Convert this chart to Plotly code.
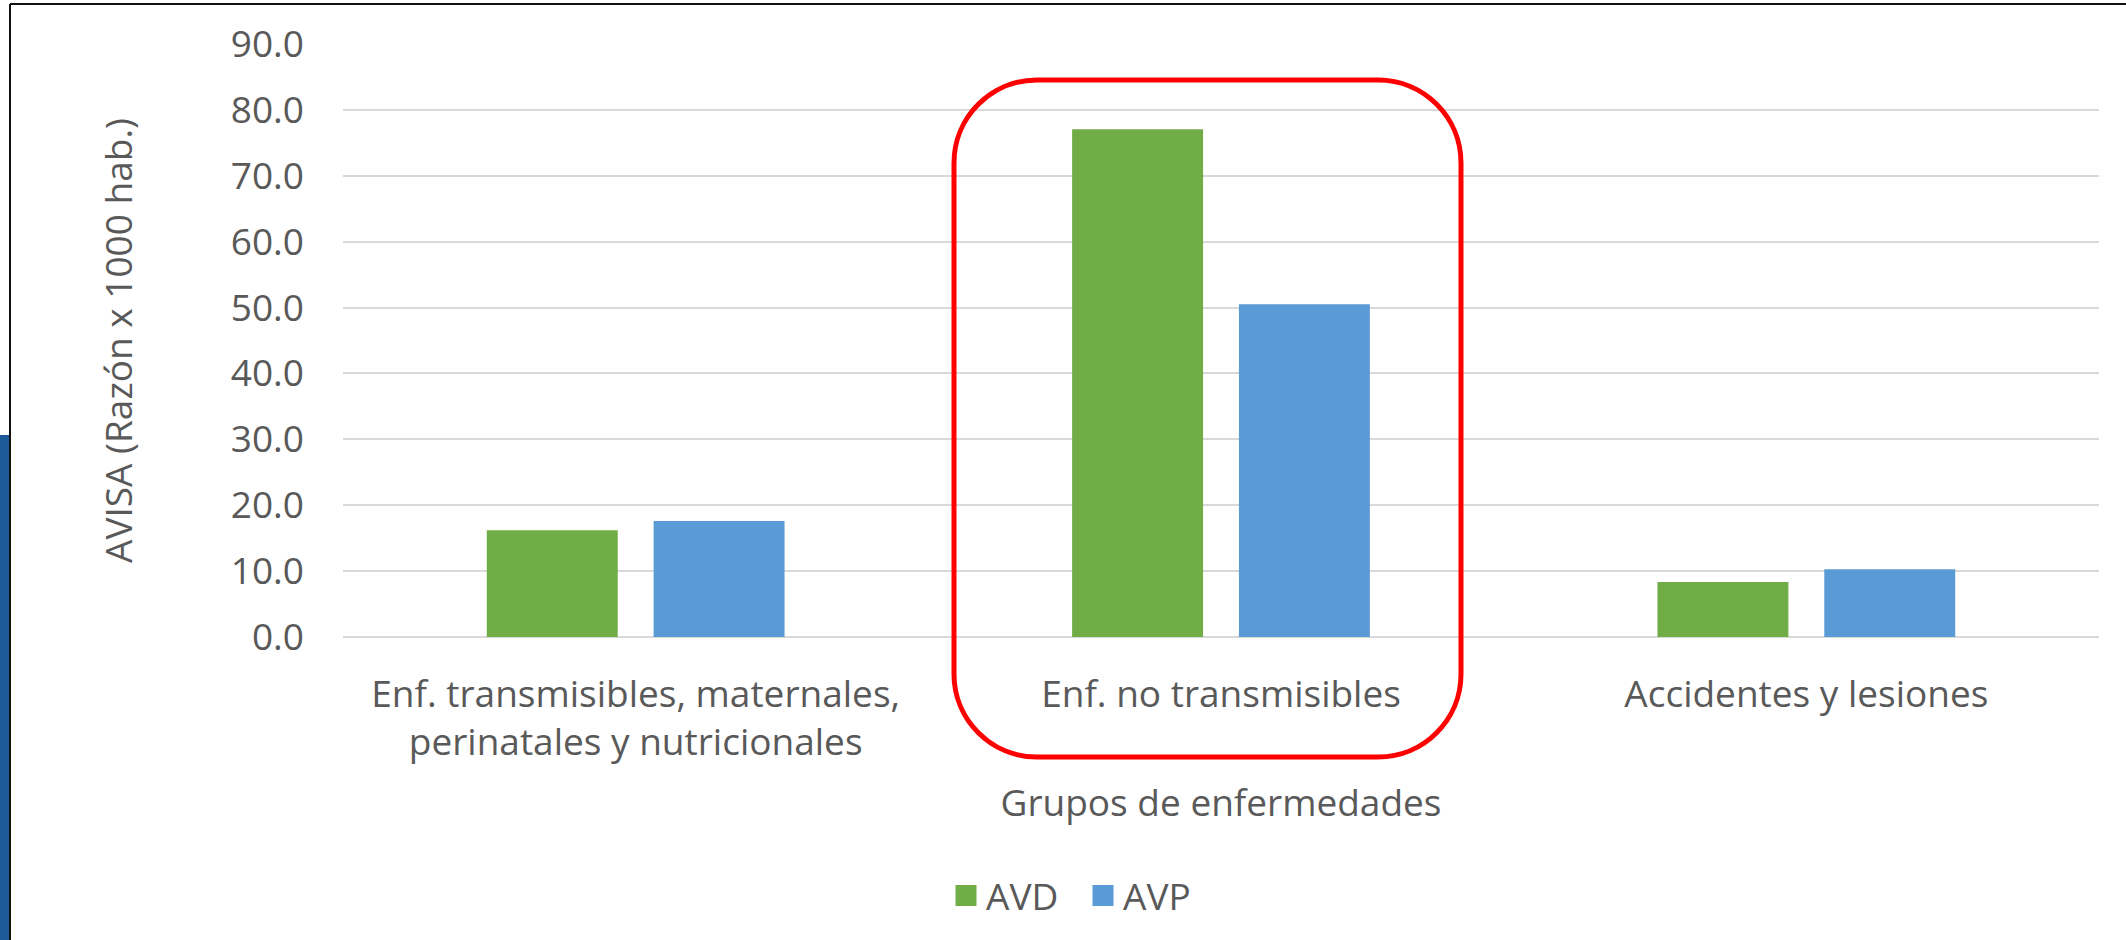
import plotly.graph_objects as go

categories = ["Enf. transmisibles, maternales,<br>perinatales y nutricionales",
              "Enf. no transmisibles",
              "Accidentes y lesiones"]
avd = [16.2, 77.05, 8.35]
avp = [17.6, 50.5, 10.3]
series_names = ["AVD", "AVP"]
colors = ["#70AD47", "#5B9BD5"]
y_ticks = [0, 10, 20, 30, 40, 50, 60, 70, 80, 90]

W, H = 2126, 940
ML, MR, MT, MB = 343, 27, 44, 303
PW = W - ML - MR
PH = H - MT - MB
FONT = "Open Sans"
TXT = "#595959"
FS = 37

def px(x):
    return (x - ML) / PW

def py(y):
    return (H - MB - y) / PH

fig = go.Figure()
for name, vals, col in zip(series_names, [avd, avp], colors):
    fig.add_trace(go.Bar(x=categories, y=vals, name=name, marker_color=col,
                         marker_line_width=0, showlegend=False))
    fig.add_trace(go.Scatter(x=[None], y=[None], mode="markers", name=name,
                             marker=dict(symbol="square", size=16, color=col,
                                         line=dict(color=col, width=5))))

# rounded highlight box (pixel positions converted to paper coords)
x0, x1, y0, y1, r = 954, 1461, 80, 757, 83
k = 0.5523 * r
def P(x, y):
    return f"{px(x):.5f},{py(y):.5f}"
path = (f"M {P(x0 + r, y0)} L {P(x1 - r, y0)} "
        f"C {P(x1 - r + k, y0)} {P(x1, y0 + r - k)} {P(x1, y0 + r)} "
        f"L {P(x1, y1 - r)} "
        f"C {P(x1, y1 - r + k)} {P(x1 - r + k, y1)} {P(x1 - r, y1)} "
        f"L {P(x0 + r, y1)} "
        f"C {P(x0 + r - k, y1)} {P(x0, y1 - r + k)} {P(x0, y1 - r)} "
        f"L {P(x0, y0 + r)} "
        f"C {P(x0, y0 + r - k)} {P(x0 + r - k, y0)} {P(x0 + r, y0)} Z")

shapes = [
    dict(type="rect", xref="paper", yref="paper", x0=px(0), x1=px(9),
         y0=py(940), y1=py(435), fillcolor="#1D5A9A", line_width=0, layer="below"),
    dict(type="line", xref="paper", yref="paper", x0=px(10), x1=px(10),
         y0=py(940), y1=py(4), line=dict(color="#111111", width=2)),
    dict(type="line", xref="paper", yref="paper", x0=px(10), x1=px(2126),
         y0=py(4), y1=py(4), line=dict(color="#111111", width=2)),
    dict(type="path", xref="paper", yref="paper", path=path,
         line=dict(color="#FF0000", width=5), fillcolor="rgba(0,0,0,0)"),
]

fig.update_layout(
    width=W, height=H,
    margin=dict(l=ML, r=MR, t=MT, b=MB),
    paper_bgcolor="white", plot_bgcolor="white",
    font=dict(family=FONT, color=TXT, size=FS),
    barmode="group", bargap=0.43, bargroupgap=0.215,
    shapes=shapes,
    legend=dict(orientation="h", x=px(1083), xanchor="center", y=py(896),
                yanchor="middle", font=dict(size=FS, color=TXT),
                itemwidth=30, tracegroupgap=0, entrywidth=92),
    xaxis=dict(showgrid=False, showline=False, ticks="", ticklabelstandoff=32,
               tickfont=dict(size=FS, color=TXT),
               title=dict(text="Grupos de enfermedades", standoff=25,
                          font=dict(size=FS, color=TXT))),
    yaxis=dict(range=[0, 90], tickvals=y_ticks, tickformat=".1f",
               gridcolor="#D9D9D9", gridwidth=2, zeroline=True,
               zerolinecolor="#D9D9D9", zerolinewidth=2, showline=False,
               ticks="", ticklabelstandoff=38,
               tickfont=dict(size=FS, color=TXT),
               title=dict(text="AVISA (Razón x 1000 hab.)", standoff=86,
                          font=dict(size=FS, color=TXT))),
)

fig.write_html("out.html", config={"displayModeBar": False},
               post_script="document.body.style.margin='0px';document.body.style.overflow='hidden';")
